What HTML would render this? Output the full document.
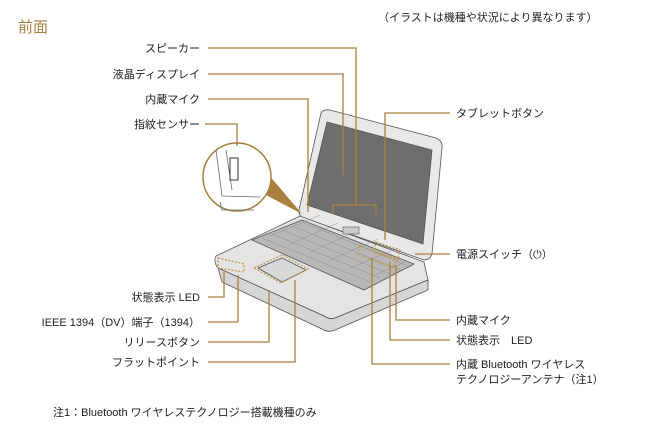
<!DOCTYPE html>
<html><head><meta charset="utf-8"><style>
body{margin:0;background:#fff;width:650px;height:430px;overflow:hidden}
svg text{font-family:"Liberation Sans","Noto Sans CJK JP",sans-serif;font-size:11px;fill:#222}
</style></head><body>
<svg width="650" height="430" viewBox="0 0 650 430" xmlns="http://www.w3.org/2000/svg">
<text x="18" y="32" style="font-size:15px;fill:#a9803f">前面</text>
<text x="378" y="21">（イラストは機種や状況により異なります）</text>
<!-- laptop -->
<g stroke="#555" stroke-width="0.8">
<path d="M321 113 Q323 109 330 110 L436 138 Q443 141 442 148 L432 254 Q430 260 424 260 L304 218 Q298 216 299 210 Z" fill="#e8e8e8"/>
<path d="M327 122 L432 150 L423 244 L307 205 Z" fill="#6e6e6e"/>
<path d="M216 256 L300 216 L424 262 L428 280 L335 318 Q330 320 324 316 L218 268 Q213 262 216 256 Z" fill="#e4e4e4"/>
<path d="M218 268 L324 316 Q330 320 335 318 L428 280 L428 290 L335 330 Q328 333 322 329 L222 282 Z" fill="#d6d6d6"/>
<path d="M252 240 L302 220 L414 264 L364 290 Z" fill="#b8b8b8"/>
<path d="M258 268 L282 258 L306 270 L282 282 Z" fill="#d8d8d8"/>
</g>
<g stroke="#888" stroke-width="0.4">
<path d="M262 238 L370 282 M272 234 L380 278 M282 230 L390 274 M292 226 L400 270 M302 222 L408 266"/>
<path d="M270 236 L320 215 M290 244 L338 223 M310 252 L358 231 M330 260 L378 239 M350 268 L398 248 M370 277 L405 262"/>
</g>
<rect x="343" y="227" width="16" height="7" fill="#ccc" stroke="#555" stroke-width="0.6"/>
<!-- fingerprint circle -->
<path d="M264 194 L302 214 L268 174 Z" fill="#a9803f"/>
<circle cx="237" cy="177" r="34" fill="#fff" stroke="#a9803f" stroke-width="1.5"/>
<path d="M216 150 L222 196 L260 197 M226 150 L232 190 M220 202 L222 210 L254 210" fill="none" stroke="#666" stroke-width="0.8"/>
<rect x="230" y="158" width="8" height="22" fill="#fff" stroke="#333"/>
<!-- dashed areas -->
<g fill="none" stroke="#c8963f" stroke-width="1.2" stroke-dasharray="2,1.5">
<path d="M254 268 L282 255 L308 269 L281 283 Z"/>
<path d="M218 258 L244 264 L244 272 L218 268 Z"/>
<path d="M360 246 L397 259 L393 268 L357 254 Z"/>
<path d="M376 242 L400 250 L398 260 L374 252 Z"/>
</g>
<!-- leaders -->
<g fill="none" stroke="#a9803f" stroke-width="1.3">
<path d="M208 48 H356 V205 M333 214 V205 H376 V214"/>
<path d="M208 74 H343 V175"/>
<path d="M208 99 H308 V212"/>
<path d="M205 124 H237 V146"/>
<path d="M450 113 H385 V240"/>
<path d="M450 254 H415"/>
<path d="M450 320 H396 V265"/>
<path d="M450 340 H390 V262"/>
<path d="M450 364 H372 V258"/>
<path d="M208 297 H224 V272"/>
<path d="M208 322 H238 V275"/>
<path d="M208 342 H269 V290"/>
<path d="M208 362 H295 V280"/>
</g>
<g text-anchor="end">
<text x="200" y="52">スピーカー</text>
<text x="200" y="78">液晶ディスプレイ</text>
<text x="200" y="103">内蔵マイク</text>
<text x="200" y="128">指紋センサー</text>
<text x="200" y="301">状態表示 LED</text>
<text x="200" y="326">IEEE 1394（DV）端子（1394）</text>
<text x="200" y="346">リリースボタン</text>
<text x="200" y="366">フラットポイント</text>
</g>
<text x="456" y="117">タブレットボタン</text>
<text x="456" y="258">電源スイッチ（⏻）</text>
<text x="456" y="324">内蔵マイク</text>
<text x="456" y="344">状態表示　LED</text>
<text x="456" y="368">内蔵 Bluetooth ワイヤレス</text>
<text x="456" y="383">テクノロジーアンテナ（注1）</text>
<text x="53" y="416">注1：Bluetooth ワイヤレステクノロジー搭載機種のみ</text>
</svg>
</body></html>
